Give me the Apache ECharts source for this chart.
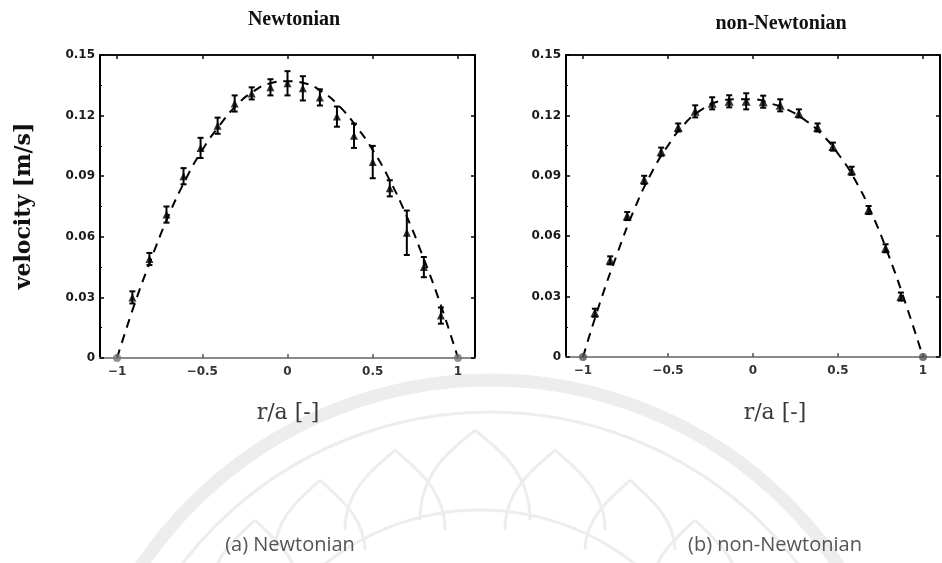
<!DOCTYPE html>
<html><head><meta charset="utf-8">
<script src="https://cdn.jsdelivr.net/npm/echarts@6/dist/echarts.min.js"></script>
<style>html,body{margin:0;padding:0;background:#fff}#c{width:942px;height:563px}</style>
</head><body><div id="c"></div><script>
// ---- Data ----
const titles = ['Newtonian', 'non-Newtonian'];
const captions = ['(a) Newtonian', '(b) non-Newtonian'];
const yTicks = [0, 0.03, 0.06, 0.09, 0.12, 0.15];
const xTicks = [-1, -0.5, 0, 0.5, 1];

// Newtonian measurements
const newtR   = [-0.91, -0.81, -0.71, -0.61, -0.51, -0.41, -0.31, -0.21, -0.10, 0.00, 0.09, 0.19, 0.29, 0.39, 0.50, 0.60, 0.70, 0.80, 0.90];
const newtV   = [0.030, 0.049, 0.071, 0.090, 0.104, 0.115, 0.126, 0.131, 0.134, 0.136, 0.1335, 0.129, 0.1195, 0.110, 0.097, 0.084, 0.062, 0.045, 0.021];
const newtErr = [0.003, 0.003, 0.004, 0.004, 0.005, 0.004, 0.004, 0.003, 0.004, 0.006, 0.006, 0.004, 0.005, 0.006, 0.008, 0.004, 0.011, 0.005, 0.004];
// dashed fit curves
const fitR    = [-1, -0.9, -0.8, -0.7, -0.6, -0.5, -0.4, -0.3, -0.2, -0.1, 0, 0.1, 0.2, 0.3, 0.4, 0.5, 0.6, 0.7, 0.8, 0.9, 1];
const newtFit = [0, 0.026, 0.049, 0.070, 0.088, 0.103, 0.115, 0.125, 0.132, 0.136, 0.137, 0.136, 0.132, 0.125, 0.115, 0.103, 0.088, 0.070, 0.049, 0.026, 0];

// non-Newtonian measurements
const nonR   = [-0.93, -0.84, -0.74, -0.64, -0.54, -0.44, -0.34, -0.24, -0.14, -0.04, 0.06, 0.16, 0.27, 0.38, 0.47, 0.58, 0.68, 0.78, 0.87];
const nonV   = [0.022, 0.048, 0.070, 0.088, 0.102, 0.114, 0.122, 0.126, 0.127, 0.127, 0.1268, 0.125, 0.121, 0.114, 0.1045, 0.0925, 0.073, 0.054, 0.030];
const nonErr = [0.002, 0.002, 0.002, 0.002, 0.002, 0.002, 0.003, 0.003, 0.003, 0.004, 0.003, 0.003, 0.002, 0.002, 0.002, 0.002, 0.002, 0.002, 0.002];
const nonFit = [0, 0.027, 0.051, 0.073, 0.091, 0.105, 0.116, 0.123, 0.127, 0.128, 0.128, 0.126, 0.123, 0.118, 0.111, 0.101, 0.088, 0.071, 0.050, 0.026, 0];

// wall points (r = ±1)
const wallR = [-1, 1];
const wallV = [0, 0];

// ---- Chart ----
const chart = echarts.init(document.getElementById('c'));
const grids = [
  {left: 100, top: 55, width: 375, height: 303},
  {left: 566, top: 55, width: 374, height: 302}
];
const tickFont = {fontFamily: 'DejaVu Sans', fontWeight: 'bold', fontSize: 12, color: '#1a1a1a'};

function xAxes(gi) {
  return [
    {gridIndex: gi, type: 'value', min: -1.1, max: 1.1, position: 'bottom',
     axisLine: {show: true, onZero: false, lineStyle: {color: '#8a8a8a', width: 2}},
     axisTick: {show: true, inside: true, length: 4, customValues: xTicks, lineStyle: {color: '#555', width: 1.5}},
     axisLabel: Object.assign({show: true, margin: 8, customValues: xTicks,
       formatter: v => (v < 0 ? '\u2212' : '') + Math.abs(v)}, tickFont, {color: '#333'}),
     splitLine: {show: false}},
    {gridIndex: gi, type: 'value', min: -1.1, max: 1.1, position: 'top',
     axisLine: {show: true, onZero: false, lineStyle: {color: '#111', width: 2}},
     axisTick: {show: true, inside: true, length: 4, customValues: xTicks, lineStyle: {color: '#111', width: 1.5}},
     axisLabel: {show: false}, splitLine: {show: false}}
  ];
}
function yAxes(gi) {
  return [
    {gridIndex: gi, type: 'value', min: 0, max: 0.15, interval: 0.03, position: 'left',
     axisLine: {show: true, onZero: false, lineStyle: {color: '#000', width: 2}},
     axisTick: {show: true, inside: true, length: 4, lineStyle: {color: '#000', width: 1.5}},
     minorTick: {show: true, splitNumber: 2, length: 2, lineStyle: {color: '#000'}},
     axisLabel: Object.assign({margin: 5, formatter: v => v === 0 ? '0' : v.toFixed(2)}, tickFont),
     splitLine: {show: false}},
    {gridIndex: gi, type: 'value', min: 0, max: 0.15, interval: 0.03, position: 'right',
     axisLine: {show: true, onZero: false, lineStyle: {color: '#000', width: 2}},
     axisTick: {show: true, inside: true, length: 4, lineStyle: {color: '#000', width: 1.5}},
     axisLabel: {show: false}, splitLine: {show: false}}
  ];
}

function errSeries(xi, yi, r, v, e) {
  return {
    type: 'custom', xAxisIndex: xi, yAxisIndex: yi, z: 4, silent: true,
    data: r.map((x, i) => [x, v[i] - e[i], v[i] + e[i]]),
    renderItem: (params, api) => {
      const x = api.value(0);
      const lo = api.coord([x, api.value(1)]);
      const hi = api.coord([x, api.value(2)]);
      const w = 3;
      const st = {stroke: '#000', lineWidth: 2};
      return {type: 'group', children: [
        {type: 'line', shape: {x1: lo[0], y1: lo[1], x2: hi[0], y2: hi[1]}, style: st},
        {type: 'line', shape: {x1: lo[0] - w, y1: lo[1], x2: lo[0] + w, y2: lo[1]}, style: st},
        {type: 'line', shape: {x1: hi[0] - w, y1: hi[1], x2: hi[0] + w, y2: hi[1]}, style: st}
      ]};
    }
  };
}
function fitSeries(xi, yi, r, v) {
  return {type: 'line', xAxisIndex: xi, yAxisIndex: yi, smooth: true, symbol: 'none', z: 3, silent: true,
    data: r.map((x, i) => [x, v[i]]),
    lineStyle: {color: '#000', width: 2, type: [9, 7]}};
}
function ptSeries(xi, yi, r, v, sym, size, color) {
  return {type: 'scatter', xAxisIndex: xi, yAxisIndex: yi, z: 5, silent: true,
    symbol: sym, symbolSize: size, itemStyle: {color: color},
    data: r.map((x, i) => [x, v[i]])};
}

// faint emblem (watermark) behind the figure
const wm = '#ededed';
function petal(cx, tipY, baseY, hw) {
  const st = {stroke: wm, lineWidth: 3, fill: null};
  return [
    {type: 'bezierCurve', z: -10, silent: true,
     shape: {x1: cx - hw, y1: baseY, cpx1: cx - hw, cpy1: tipY + 35, cpx2: cx - 12, cpy2: tipY + 12, x2: cx, y2: tipY}, style: st},
    {type: 'bezierCurve', z: -10, silent: true,
     shape: {x1: cx + hw, y1: baseY, cpx1: cx + hw, cpy1: tipY + 35, cpx2: cx + 12, cpy2: tipY + 12, x2: cx, y2: tipY}, style: st}
  ];
}
const emblem = [
  {type: 'arc', z: -10, silent: true, shape: {cx: 490, cy: 800, r: 420, startAngle: Math.PI * 1.0, endAngle: Math.PI * 2.0},
   style: {stroke: wm, lineWidth: 13, fill: null}},
  {type: 'arc', z: -10, silent: true, shape: {cx: 490, cy: 800, r: 388, startAngle: Math.PI * 1.0, endAngle: Math.PI * 2.0},
   style: {stroke: wm, lineWidth: 3, fill: null}},
  {type: 'arc', z: -10, silent: true, shape: {cx: 480, cy: 760, r: 250, startAngle: Math.PI * 1.0, endAngle: Math.PI * 2.0},
   style: {stroke: wm, lineWidth: 3, fill: null}},
  ...petal(475, 430, 520, 55),
  ...petal(395, 450, 530, 50),
  ...petal(555, 450, 530, 50),
  ...petal(320, 480, 550, 45),
  ...petal(630, 480, 550, 45),
  ...petal(255, 520, 575, 40),
  ...petal(695, 520, 575, 40)
];

chart.setOption({
  backgroundColor: '#fff',
  animation: false,
  title: [
    {text: titles[0], left: 289, top: 5, textAlign: 'center',
     textStyle: {fontFamily: 'Liberation Serif', fontWeight: 'bold', fontSize: 20, color: '#111'}},
    {text: titles[1], left: 776, top: 9, textAlign: 'center',
     textStyle: {fontFamily: 'Liberation Serif', fontWeight: 'bold', fontSize: 20, color: '#111'}}
  ],
  graphic: [
    ...emblem,
    {type: 'text', x: 24, y: 206, rotation: Math.PI / 2,
     style: {text: 'velocity [m/s]', font: 'bold 22px "DejaVu Serif"', fill: '#111', align: 'center', verticalAlign: 'middle'}},
    {type: 'text', x: 288, y: 413,
     style: {text: 'r/a [-]', font: '22px "DejaVu Serif"', fill: '#3a3a3a', align: 'center', verticalAlign: 'middle'}},
    {type: 'text', x: 775, y: 413,
     style: {text: 'r/a [-]', font: '22px "DejaVu Serif"', fill: '#3a3a3a', align: 'center', verticalAlign: 'middle'}},
    {type: 'text', x: 290, y: 545,
     style: {text: captions[0], font: '20px "Open Sans"', fill: '#555', align: 'center', verticalAlign: 'middle'}},
    {type: 'text', x: 775, y: 545,
     style: {text: captions[1], font: '20px "Open Sans"', fill: '#555', align: 'center', verticalAlign: 'middle'}}
  ],
  grid: grids,
  xAxis: [...xAxes(0), ...xAxes(1)],
  yAxis: [...yAxes(0), ...yAxes(1)],
  series: [
    fitSeries(0, 0, fitR, newtFit),
    errSeries(0, 0, newtR, newtV, newtErr),
    ptSeries(0, 0, newtR, newtV, 'triangle', 8, '#000'),
    ptSeries(0, 0, wallR, wallV, 'circle', 8, '#777'),
    fitSeries(2, 2, fitR, nonFit),
    errSeries(2, 2, nonR, nonV, nonErr),
    ptSeries(2, 2, nonR, nonV, 'triangle', 9, '#000'),
    ptSeries(2, 2, wallR, wallV, 'circle', 8, '#555')
  ]
});
</script></body></html>
